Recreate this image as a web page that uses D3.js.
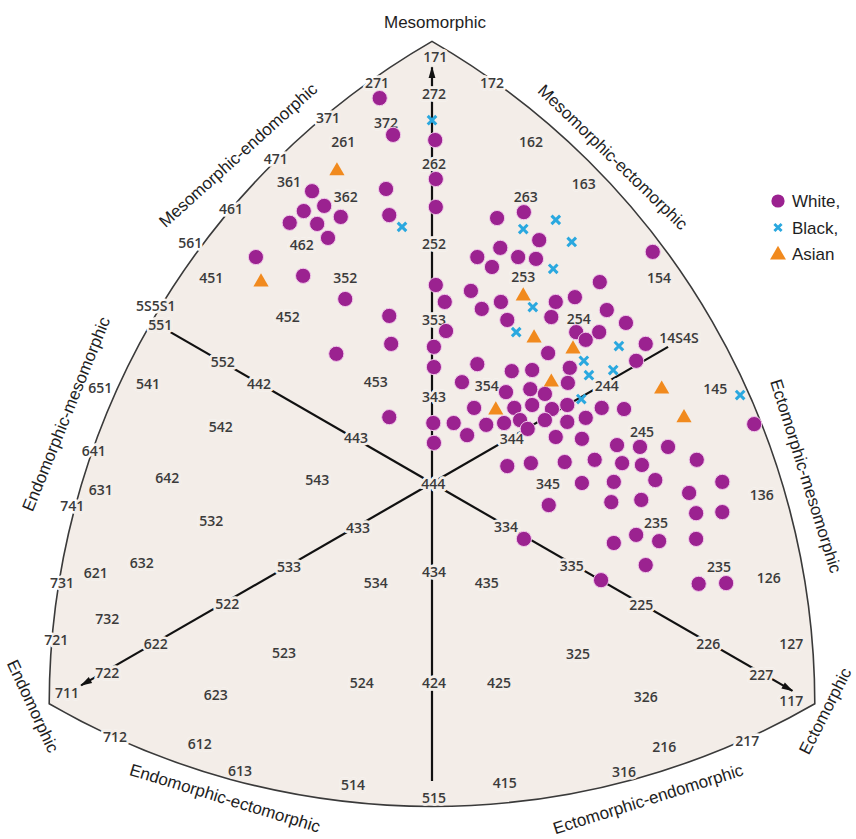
<!DOCTYPE html>
<html>
<head>
<meta charset="utf-8">
<script src="https://cdn.jsdelivr.net/npm/d3@7"></script>
<style>
  body { margin: 0; background: #fff; }
  svg { display: block; }
</style>
</head>
<body>
<svg id="chart" width="856" height="839"></svg>
<script>
// Somatochart coordinates: X = ecto - endo, Y = 2*meso - (endo + ecto)

// White subjects
const whitePts = [
  [-0.82,10.46],[-0.61,9.46],[0.05,9.32],[-1.88,7.93],[-0.72,7.99],[0.06,8.26],
  [-1.69,7.53],[-2.01,7.39],[-1.43,7.23],[-2.23,7.07],[-1.80,7.04],[-0.67,7.28],
  [0.06,7.50],[-1.63,6.66],[-2.76,6.14],[-2.02,5.63],[-1.36,5.00],[0.06,5.38],
  [0.20,4.92],[-0.67,4.54],[-0.64,3.78],[-1.50,3.51],[0.03,3.70],[0.03,3.15],
  [0.22,4.13],[-0.67,1.79],[0.02,1.63],[0.03,1.09],
  [1.44,7.36],[1.02,7.20],[1.68,6.60],[1.07,6.39],[0.71,6.14],[1.35,6.14],
  [1.63,6.09],[0.94,5.87],[3.46,6.28],[2.63,5.46],[0.61,5.22],[1.08,4.92],
  [0.78,4.73],[1.94,4.92],[2.24,5.05],[1.87,4.51],[2.74,4.70],[1.18,4.43],
  [2.26,4.10],[2.41,3.89],[2.62,4.10],[3.04,4.35],[3.35,3.78],[1.82,3.53],
  [3.20,3.32],[0.71,3.23],[1.25,3.04],[1.57,3.07],[2.16,3.13],[2.13,2.72],
  [0.47,2.74],[1.16,2.47],[1.54,2.55],[1.77,2.42],[0.66,2.04],[1.29,2.04],
  [1.57,2.12],[1.88,2.01],[2.12,2.12],[2.66,2.04],[3.01,2.01],[0.34,1.63],
  [0.85,1.58],[1.13,1.63],[1.38,1.71],[1.77,1.71],[2.12,1.66],[2.41,1.77],
  [0.55,1.30],[1.50,1.47],[1.94,1.25],[2.35,1.20],[2.90,1.03],[3.26,0.98],
  [3.70,0.98],[5.05,1.60],[1.18,0.46],[1.55,0.54],[2.08,0.57],[2.55,0.63],
  [2.98,0.54],[3.29,0.49],[4.15,0.63],[2.35,0.00],[2.85,0.03],[3.50,0.08],
  [4.55,0.03],[1.83,-0.60],[2.81,-0.52],[3.28,-0.46],[4.03,-0.27],[4.14,-0.82],
  [4.55,-0.79],[1.44,-1.52],[2.85,-1.63],[3.20,-1.41],[3.56,-1.58],[4.14,-1.52],
  [3.35,-2.23],[2.65,-2.64],[4.18,-2.74],[4.61,-2.72]
];

// Black subjects
const blackPts = [
  [0.00,9.86],[-0.47,6.96],[1.94,7.15],[1.43,6.90],[2.19,6.55],[1.90,5.82],
  [1.58,4.78],[1.32,4.10],[2.93,3.72],[2.38,3.32],[2.84,3.07],[2.46,2.93],
  [2.34,2.28],[4.83,2.39]
];

// Asian subjects
const asianPts = [
  [-1.49,8.48],[-2.68,5.46],[1.43,5.08],[1.60,3.94],[2.21,3.64],[1.87,2.74],
  [1.00,1.98],[3.60,2.55],[3.95,1.77]
];

// Somatotype reference labels (endo-meso-ecto) and where they sit on the chart
const somatoLabels = [
  ["171",0.05,11.58],["172",0.94,10.87],["271",-0.86,10.87],["272",0.03,10.57],
  ["371",-1.63,9.92],["372",-0.72,9.78],["261",-1.39,9.27],["262",0.03,8.67],
  ["471",-2.45,8.80],["162",1.55,9.27],["163",2.38,8.13],["361",-2.24,8.18],
  ["362",-1.35,7.77],["461",-3.15,7.45],["462",-2.04,6.47],["263",1.47,7.77],
  ["252",0.03,6.49],["561",-3.79,6.52],["451",-3.46,5.57],["352",-1.36,5.57],
  ["253",1.43,5.60],["154",3.56,5.57],["5S5S1",-4.33,4.81],["551",-4.26,4.29],
  ["452",-2.26,4.51],["353",0.03,4.43],["254",2.30,4.46],["14S4S",3.87,3.94],
  ["552",-3.28,3.29],["442",-2.71,2.69],["651",-5.20,2.58],["541",-4.45,2.69],
  ["453",-0.88,2.74],["343",0.03,2.34],["354",0.86,2.64],["244",2.74,2.64],
  ["145",4.44,2.55],["542",-3.31,1.52],["443",-1.19,1.22],["344",1.25,1.20],
  ["245",3.29,1.39],["641",-5.30,0.87],["631",-5.19,-0.19],["642",-4.15,0.14],
  ["741",-5.64,-0.63],["543",-1.80,0.08],["444",0.02,-0.03],["345",1.82,-0.03],
  ["136",5.17,-0.33],["532",-3.46,-1.03],["433",-1.16,-1.22],["334",1.16,-1.20],
  ["235",3.51,-1.09],["621",-5.27,-2.45],["632",-4.55,-2.17],["731",-5.80,-2.72],
  ["533",-2.24,-2.28],["534",-0.88,-2.72],["434",0.03,-2.42],["435",0.86,-2.72],
  ["335",2.19,-2.26],["235",4.50,-2.28],["126",5.28,-2.58],["732",-5.09,-3.70],
  ["522",-3.21,-3.29],["225",3.28,-3.32],["721",-5.89,-4.27],["622",-4.33,-4.38],
  ["523",-2.32,-4.62],["325",2.29,-4.65],["226",4.33,-4.38],["127",5.63,-4.38],
  ["722",-5.09,-5.16],["711",-5.72,-5.71],["524",-1.10,-5.43],["424",0.03,-5.43],
  ["425",1.05,-5.43],["326",3.35,-5.82],["227",5.16,-5.22],["117",5.63,-5.92],
  ["623",-3.39,-5.76],["712",-4.97,-6.90],["612",-3.64,-7.09],["216",3.64,-7.17],
  ["217",4.94,-7.01],["613",-3.01,-7.83],["514",-1.24,-8.21],["515",0.03,-8.56],
  ["415",1.14,-8.15],["316",3.01,-7.85]
];

// Chart corners: pure mesomorph, ectomorph, endomorph (1-7-1, 1-1-7, 7-1-1)
const corners = [[0, 12], [6, -6], [-6, -6]];

// Reference axes drawn through the centre (4-4-4)
const axes = [
  { from: [0, -8.1], to: [0, 11.3], arrow: true },
  { from: [0, 0], to: [-4.1, 4.1], arrow: false },
  { from: [0, 0], to: [3.7, 3.7], arrow: false },
  { from: [0, 0], to: [-5.5, -5.5], arrow: true },
  { from: [0, 0], to: [5.65, -5.65], arrow: true }
];

const sideTitles = [
  "Mesomorphic", "Mesomorphic-endomorphic", "Mesomorphic-ectomorphic",
  "Endomorphic-mesomorphic", "Endomorphic", "Endomorphic-ectomorphic",
  "Ectomorphic-endomorphic", "Ectomorphic", "Ectomorphic-mesomorphic"
];

const legendItems = ["White,", "Black,", "Asian"];

// ---- drawing ----
const BG = "#f3ede8";
const PURPLE = "#9b2290";
const BLUE = "#2aa8df";
const ORANGE = "#f18a1e";
const TITLE_FONT = "'Liberation Sans', Arial, sans-serif";
const NUM_FONT = "'Open Sans', 'Noto Sans', sans-serif";

const svg = d3.select("#chart");
svg.append("rect").attr("width", 856).attr("height", 839).attr("fill", "#fff");

const cx = 432, ux = 63.8, cy = 483, uy = 36.8;
const x = d3.scaleLinear().domain([-6, 6]).range([cx - 6 * ux, cx + 6 * ux]);
const y = d3.scaleLinear().domain([-6, 12]).range([cy + 6 * uy, cy - 12 * uy]);

// Reuleaux-style outline: each side is an arc centred on the opposite corner
const P = corners.map(([a, b]) => [x(a), y(b)]);
const R = d3.mean([0, 1, 2], i => {
  const j = (i + 1) % 3;
  return Math.hypot(P[i][0] - P[j][0], P[i][1] - P[j][1]);
});
const outline = `M${P[0]}A${R},${R} 0 0 1 ${P[1]}A${R},${R} 0 0 1 ${P[2]}A${R},${R} 0 0 1 ${P[0]}Z`;

const defs = svg.append("defs");
defs.append("clipPath").attr("id", "inside").append("path").attr("d", outline);
defs.append("marker")
  .attr("id", "arrow").attr("viewBox", "0 -5 13 10")
  .attr("refX", 12).attr("refY", 0)
  .attr("markerUnits", "userSpaceOnUse")
  .attr("markerWidth", 13).attr("markerHeight", 9)
  .attr("orient", "auto")
  .append("path").attr("d", "M0,-3.8L13,0L0,3.8Z").attr("fill", "#111");

svg.append("path").attr("d", outline)
  .attr("fill", BG).attr("stroke", "#3a3a3a").attr("stroke-width", 1.6);

svg.append("g").selectAll("line").data(axes).join("line")
  .attr("x1", d => x(d.from[0])).attr("y1", d => y(d.from[1]))
  .attr("x2", d => x(d.to[0])).attr("y2", d => y(d.to[1]))
  .attr("stroke", "#111").attr("stroke-width", 2.2)
  .attr("marker-end", d => d.arrow ? "url(#arrow)" : null);

// somatotype labels, knocked out of the lines beneath them
function labelLayer(g) {
  return g.selectAll("text").data(somatoLabels).join("text")
    .attr("x", d => x(d[1])).attr("y", d => y(d[2]))
    .attr("dy", "0.36em")
    .attr("text-anchor", "middle")
    .attr("font-family", NUM_FONT).attr("font-size", 14).attr("font-weight", 600)
    .text(d => d[0]);
}
labelLayer(svg.append("g"))
  .attr("fill", "#fff").attr("stroke", "#fff").attr("stroke-width", 5)
  .attr("stroke-linejoin", "round");
labelLayer(svg.append("g").attr("clip-path", "url(#inside)"))
  .attr("fill", BG).attr("stroke", BG).attr("stroke-width", 5)
  .attr("stroke-linejoin", "round");
labelLayer(svg.append("g")).attr("fill", "#3b3b3b");

// points
const gPts = svg.append("g");
gPts.selectAll("circle").data(whitePts).join("circle")
  .attr("cx", d => x(d[0])).attr("cy", d => y(d[1])).attr("r", 7.6)
  .attr("fill", PURPLE).attr("stroke", "#f1c9ea").attr("stroke-width", 1);

const tri = d3.symbol().type(d3.symbolTriangle).size(100);
gPts.selectAll("path.asian").data(asianPts).join("path").attr("class", "asian")
  .attr("d", tri)
  .attr("transform", d => `translate(${x(d[0])},${y(d[1])})`)
  .attr("fill", ORANGE);

const cross = s => `M${-s},${-s}L${s},${s}M${-s},${s}L${s},${-s}`;
gPts.selectAll("path.black").data(blackPts).join("path").attr("class", "black")
  .attr("d", cross(4.3))
  .attr("transform", d => `translate(${x(d[0])},${y(d[1])})`)
  .attr("stroke", BLUE).attr("stroke-width", 3).attr("fill", "none");

// side titles around the outline
const titleLayout = [
  [435, 22, 0], [238, 155, -42], [613, 157, 44],
  [66, 414, -68], [33, 706, 65], [225, 798, 17],
  [648, 799, -17.5], [825, 711, -63], [806, 476, 72.5]
];
svg.append("g").selectAll("text").data(sideTitles).join("text")
  .attr("transform", (d, i) => `translate(${titleLayout[i][0]},${titleLayout[i][1]}) rotate(${titleLayout[i][2]})`)
  .attr("text-anchor", "middle").attr("dy", "0.35em")
  .attr("font-family", TITLE_FONT).attr("font-size", 17)
  .attr("fill", "#1e1e1e")
  .text(d => d);

// legend
const lg = svg.append("g").attr("transform", "translate(778,201)");
const rowH = 26.5;
lg.append("circle").attr("cx", 0).attr("cy", 0).attr("r", 6.6).attr("fill", PURPLE);
lg.append("path").attr("d", cross(3.6)).attr("transform", `translate(0,${rowH})`)
  .attr("stroke", BLUE).attr("stroke-width", 2.8).attr("fill", "none");
lg.append("path").attr("d", d3.symbol().type(d3.symbolTriangle).size(110)())
  .attr("transform", `translate(0,${rowH * 2 + 1})`).attr("fill", ORANGE);
lg.selectAll("text").data(legendItems).join("text")
  .attr("x", 14).attr("y", (d, i) => i * rowH).attr("dy", "0.36em")
  .attr("font-family", TITLE_FONT).attr("font-size", 17).attr("fill", "#1e1e1e")
  .text(d => d);
</script>
</body>
</html>
